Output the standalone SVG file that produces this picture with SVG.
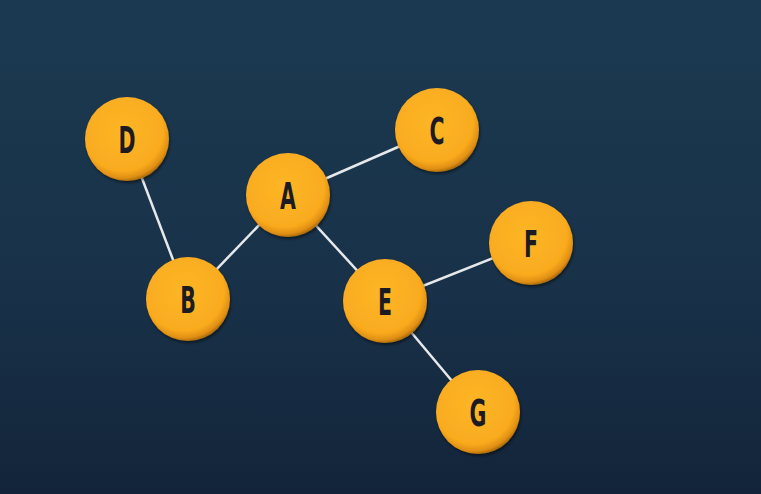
<svg xmlns="http://www.w3.org/2000/svg" width="761" height="494" viewBox="0 0 761 494">
<defs>
<linearGradient id="bg" x1="0" y1="0" x2="0" y2="1">
<stop offset="0" stop-color="#1b3a51"/>
<stop offset="0.6" stop-color="#183148"/>
<stop offset="1" stop-color="#13243a"/>
</linearGradient>
<radialGradient id="ball" cx="0.45" cy="0.4" r="0.6">
<stop offset="0" stop-color="#fdb626"/>
<stop offset="0.8" stop-color="#f9ab1f"/>
<stop offset="0.94" stop-color="#e08f12"/>
<stop offset="1" stop-color="#b07010"/>
</radialGradient>
<filter id="sh" x="-20%" y="-20%" width="140%" height="140%">
<feGaussianBlur in="SourceAlpha" stdDeviation="1.5"/>
<feOffset dx="1" dy="2" result="b"/>
<feComponentTransfer><feFuncA type="linear" slope="0.5"/></feComponentTransfer>
<feMerge><feMergeNode/><feMergeNode in="SourceGraphic"/></feMerge>
</filter>
</defs>
<style>
.n circle{fill:url(#ball);filter:url(#sh)}
.n text{font-family:"DejaVu Sans Condensed","DejaVu Sans",sans-serif;font-weight:bold;font-size:38px;fill:#1c1a22;text-anchor:middle}
.e line{stroke:#e6e8ea;stroke-width:2.5}
</style>
<rect width="761" height="494" fill="url(#bg)"/>
<g id="connectors" class="e">
<line x1="127" y1="139" x2="188" y2="299"/>
<line x1="288" y1="195" x2="188" y2="299"/>
<line x1="288" y1="195" x2="437" y2="130"/>
<line x1="288" y1="195" x2="385" y2="301"/>
<line x1="385" y1="301" x2="531" y2="243"/>
<line x1="385" y1="301" x2="478" y2="412"/>
</g>
<g id="D" class="n"><circle cx="127" cy="139" r="42"/><text transform="translate(127 153) scale(0.6 1)">D</text></g>
<g id="A" class="n"><circle cx="288" cy="195" r="42"/><text transform="translate(288 209) scale(0.6 1)">A</text></g>
<g id="C" class="n"><circle cx="437" cy="130" r="42"/><text transform="translate(437 144) scale(0.6 1)">C</text></g>
<g id="F" class="n"><circle cx="531" cy="243" r="42"/><text transform="translate(531 257) scale(0.6 1)">F</text></g>
<g id="B" class="n"><circle cx="188" cy="299" r="42"/><text transform="translate(188 313) scale(0.6 1)">B</text></g>
<g id="E" class="n"><circle cx="385" cy="301" r="42"/><text transform="translate(385 315) scale(0.6 1)">E</text></g>
<g id="G" class="n"><circle cx="478" cy="412" r="42"/><text transform="translate(478 426) scale(0.6 1)">G</text></g>
</svg>
